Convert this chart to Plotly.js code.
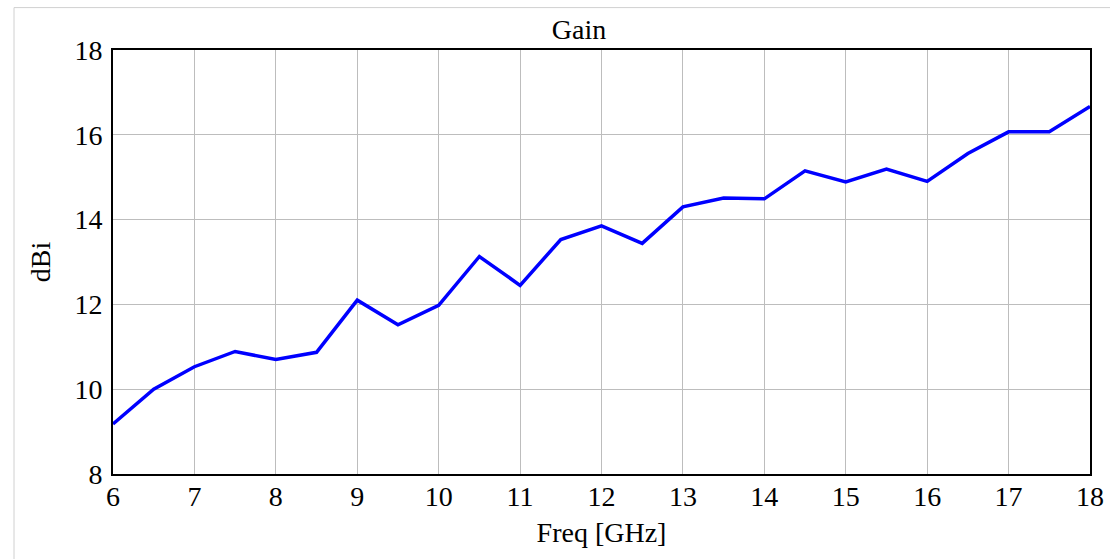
<!DOCTYPE html>
<html>
<head>
<meta charset="utf-8">
<script src="https://cdn.plot.ly/plotly-3.0.1.min.js"></script>
<style>html,body{margin:0;padding:0;background:#fff;}#chart{width:1110px;height:559px;}</style>
</head>
<body>
<div id="chart"></div>
<script>
const freqGHz = [6, 6.5, 7, 7.5, 8, 8.5, 9, 9.5, 10, 10.5, 11, 11.5, 12, 12.5, 13, 13.5, 14, 14.5, 15, 15.5, 16, 16.5, 17, 17.5, 18];
const gainDBi = [9.18, 10.0, 10.53, 10.89, 10.7, 10.87, 12.1, 11.52, 11.98, 13.13, 12.45, 13.53, 13.85, 13.44, 14.3, 14.51, 14.49, 15.15, 14.89, 15.19, 14.9, 15.56, 16.07, 16.07, 16.67];
const xTicks = [6, 7, 8, 9, 10, 11, 12, 13, 14, 15, 16, 17, 18];
const yTicks = [8, 10, 12, 14, 16, 18];

const font = 'Liberation Serif, Times New Roman, serif';

Plotly.newPlot('chart', [{
  x: freqGHz, y: gainDBi, type: 'scatter', mode: 'lines',
  line: {color: '#0000ff', width: 3.5}, hoverinfo: 'skip'
}], {
  width: 1110, height: 559,
  margin: {l: 113, r: 20, t: 50, b: 85},
  paper_bgcolor: '#ffffff', plot_bgcolor: '#ffffff',
  showlegend: false,
  font: {family: font, color: '#000'},
  title: {text: 'Gain', font: {family: font, size: 28, color: '#000'}, x: 0.5216, xanchor: 'center', y: 0.947, yanchor: 'middle', yref: 'container'},
  xaxis: {
    range: [6, 18], tickvals: xTicks, ticktext: xTicks.map(String),
    showgrid: true, gridcolor: '#bdbdbd', gridwidth: 1,
    showline: true, linecolor: '#000', linewidth: 2, mirror: true,
    ticks: '', zeroline: false, ticklabelstandoff: -4,
    tickfont: {family: font, size: 28, color: '#000'},
    title: {text: 'Freq [GHz]', font: {family: font, size: 28, color: '#000'}, standoff: 12}
  },
  yaxis: {
    range: [8, 18], tickvals: yTicks, ticktext: yTicks.map(String),
    showgrid: true, gridcolor: '#bdbdbd', gridwidth: 1,
    showline: true, linecolor: '#000', linewidth: 2, mirror: true,
    ticks: '', zeroline: false, ticklabelstandoff: 3,
    tickfont: {family: font, size: 28, color: '#000'},
    title: {text: 'dBi', font: {family: font, size: 28, color: '#000'}, standoff: 16}
  },
  shapes: [{
    type: 'rect', xref: 'paper', yref: 'paper',
    x0: -0.1013, x1: 1.1, y0: -1, y1: 1.1,
    line: {color: '#d0d0d0', width: 1}, fillcolor: 'rgba(0,0,0,0)', layer: 'below'
  }]
}, {displayModeBar: false, staticPlot: true});
</script>
</body>
</html>
